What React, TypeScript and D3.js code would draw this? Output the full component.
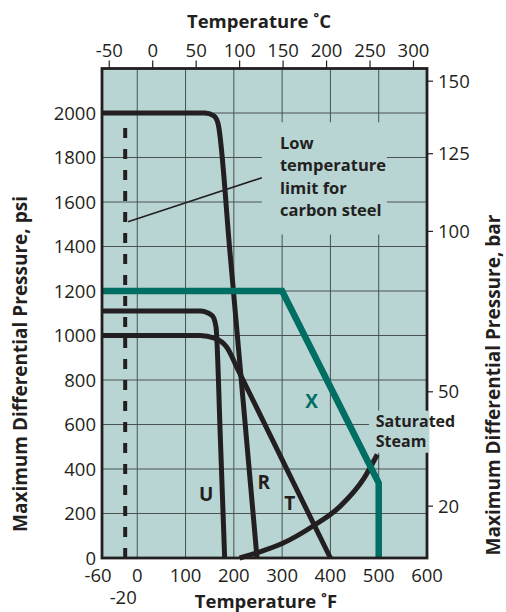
import React from 'react'
import * as d3 from 'd3'

const W = 506
const H = 612
const PLOT = { left: 102, right: 427, top: 68.5, bottom: 558 }

// axis ticks
const F_TICKS = [0, 100, 200, 300, 400, 500, 600]
const C_TICKS = [-50, 0, 50, 100, 150, 200, 250, 300]
const PSI_TICKS = [0, 200, 400, 600, 800, 1000, 1200, 1400, 1600, 1800, 2000]
const BAR_TICKS = [20, 50, 100, 125, 150]
// where each bar tick sits on the psi scale
const BAR_TICK_PSI = [233, 747, 1468, 1817, 2143]
const EDGE_LABEL = '-60'
const LOW_LIMIT_LABEL = '-20'
const LOW_LIMIT_F = -25

// curves: [°F, psi]
const CURVE_R: [number, number][] = [[-73, 2000], [140, 2000], [158, 1988], [167, 1955], [192, 1375], [248, 0]]
const CURVE_U: [number, number][] = [[-73, 1110], [130, 1110], [155, 1090], [163, 1040], [172, 545], [181, 0]]
const CURVE_T: [number, number][] = [[-73, 1000], [130, 1000], [160, 988], [185, 948], [210, 840], [300, 442], [400, 0]]
const CURVE_X: [number, number][] = [[-73, 1200], [300, 1200], [500, 337], [500, 0]]
const STEAM: [number, number][] = [[212, 0], [250, 25], [300, 65], [365, 145], [420, 232], [470, 360], [497, 465]]
const LEADER: [number, number][] = [[-19, 1511], [258, 1709]]

const CURVE_LABELS = [
  { text: 'U', f: 143, psi: 288, color: '#231f20' },
  { text: 'R', f: 262, psi: 343, color: '#231f20' },
  { text: 'T', f: 316, psi: 245, color: '#231f20' },
  { text: 'X', f: 361, psi: 704, color: '#006e63' },
]
const NOTE_LINES = ['Low', 'temperature', 'limit for', 'carbon steel']
const STEAM_LINES = ['Saturated', 'Steam']

const INK = '#231f20'
const TEAL = '#006e63'
const BG = '#b8d5d4'
const FONT = '"Open Sans", "Noto Sans", sans-serif'

const App: React.FC = () => {
  const x = d3.scaleLinear().domain([-73, 600]).range([PLOT.left, PLOT.right])
  const y = d3.scaleLinear().domain([0, 2200]).range([PLOT.bottom, PLOT.top])
  const cToF = (c: number) => c * 9 / 5 + 32
  const barY = d3.scaleLinear().domain(BAR_TICKS).range(BAR_TICK_PSI.map(p => y(p)))

  const line = d3.line<[number, number]>()
    .x(d => x(d[0]))
    .y(d => y(d[1]))
  const smooth = d3.line<[number, number]>()
    .x(d => x(d[0]))
    .y(d => y(d[1]))
    .curve(d3.curveMonotoneX)

  return (
    <svg width={W} height={H} style={{ position: 'absolute', left: 0, top: 0, fontFamily: FONT }}>
      <rect x={PLOT.left} y={PLOT.top} width={PLOT.right - PLOT.left} height={PLOT.bottom - PLOT.top} fill={BG} />

      {/* grid */}
      {F_TICKS.filter(f => f < 600).map(f => (
        <line key={'vf' + f} x1={x(f)} x2={x(f)} y1={PLOT.top} y2={PLOT.bottom} stroke="#4a5150" strokeWidth={1} />
      ))}
      {PSI_TICKS.filter(p => p > 0).map(p => (
        <line key={'hp' + p} x1={PLOT.left} x2={PLOT.right} y1={y(p)} y2={y(p)} stroke="#4a5150" strokeWidth={1} />
      ))}

      {/* label background hides the grid */}
      <rect x={x(258)} y={y(1958)} width={x(517) - x(258)} height={y(1454) - y(1958)} fill={BG} />

      {/* low temperature limit for carbon steel */}
      <line x1={x(LOW_LIMIT_F)} x2={x(LOW_LIMIT_F)} y1={y(0)} y2={y(1955)} stroke={INK} strokeWidth={4} strokeDasharray="10 11" />
      <path d={line(LEADER) || ''} fill="none" stroke={INK} strokeWidth={1.6} />

      <path d={smooth(STEAM) || ''} fill="none" stroke={INK} strokeWidth={5} />
      <path d={smooth(CURVE_T) || ''} fill="none" stroke={INK} strokeWidth={5} />
      <path d={smooth(CURVE_U) || ''} fill="none" stroke={INK} strokeWidth={5} />
      <path d={smooth(CURVE_R) || ''} fill="none" stroke={INK} strokeWidth={5} />
      <path d={line(CURVE_X) || ''} fill="none" stroke={TEAL} strokeWidth={6.5} />

      {/* frame */}
      <rect x={PLOT.left} y={PLOT.top} width={PLOT.right - PLOT.left} height={PLOT.bottom - PLOT.top} fill="none" stroke={INK} strokeWidth={2.8} />

      <rect x={x(480)} y={y(662)} width={x(605) - x(480)} height={y(473) - y(662)} fill={BG} />

      {/* curve letters */}
      {CURVE_LABELS.map(l => (
        <text key={l.text} x={x(l.f)} y={y(l.psi)} dy="0.36em" textAnchor="middle" fontSize={19} fontWeight={700} fill={l.color}>{l.text}</text>
      ))}

      <text x={x(295.5)} y={y(1838)} fontSize={16.5} fontWeight={700} fill={INK}>
        {NOTE_LINES.map((t, i) => (
          <tspan key={t} x={x(295.5)} dy={i === 0 ? 0 : 22.3}>{t}</tspan>
        ))}
      </text>
      <text x={x(494)} y={y(591)} fontSize={16} fontWeight={700} fill={INK}>
        {STEAM_LINES.map((t, i) => (
          <tspan key={t} x={x(494)} dy={i === 0 ? 0 : 20.5}>{t}</tspan>
        ))}
      </text>

      {/* left axis: psi */}
      {PSI_TICKS.map(p => (
        <text key={'lp' + p} x={PLOT.left - 6} y={y(p)} dy="0.36em" textAnchor="end" fontSize={18.5} fill={INK}>{p}</text>
      ))}

      {/* right axis: bar */}
      {BAR_TICKS.map(b => (
        <g key={'rb' + b}>
          <line x1={PLOT.right} x2={PLOT.right + 6} y1={barY(b)} y2={barY(b)} stroke={INK} strokeWidth={1.2} />
          <text x={PLOT.right + 11} y={barY(b)} dy="0.36em" fontSize={18.5} fill={INK}>{b}</text>
        </g>
      ))}

      {/* top axis: °C */}
      {C_TICKS.map(c => (
        <g key={'tc' + c}>
          <line x1={x(cToF(c))} x2={x(cToF(c))} y1={PLOT.top - 8} y2={PLOT.top} stroke={INK} strokeWidth={1.2} />
          <text x={x(cToF(c))} y={57} textAnchor="middle" fontSize={18.5} fill={INK}>{c}</text>
        </g>
      ))}

      {/* bottom axis: °F */}
      {F_TICKS.map(f => (
        <text key={'bf' + f} x={x(f)} y={582} textAnchor="middle" fontSize={18.5} fill={INK}>{f}</text>
      ))}
      <text x={x(-73) - 4} y={582} textAnchor="middle" fontSize={18.5} fill={INK}>{EDGE_LABEL}</text>
      <text x={x(LOW_LIMIT_F) - 2} y={604} textAnchor="middle" fontSize={18.5} fill={INK}>{LOW_LIMIT_LABEL}</text>

      {/* titles */}
      <text x={259} y={28.3} textAnchor="middle" fontSize={18.5} fontWeight={700} fill={INK}>Temperature ˚C</text>
      <text x={266} y={607.5} textAnchor="middle" fontSize={18.5} fontWeight={700} fill={INK}>Temperature ˚F</text>
      <text transform="translate(27,364) rotate(-90)" textAnchor="middle" fontSize={19} fontWeight={700} fill={INK}>Maximum Differential Pressure, psi</text>
      <text transform="translate(500,385) rotate(-90)" textAnchor="middle" fontSize={19} fontWeight={700} fill={INK}>Maximum Differential Pressure, bar</text>
    </svg>
  )
}

export default App
